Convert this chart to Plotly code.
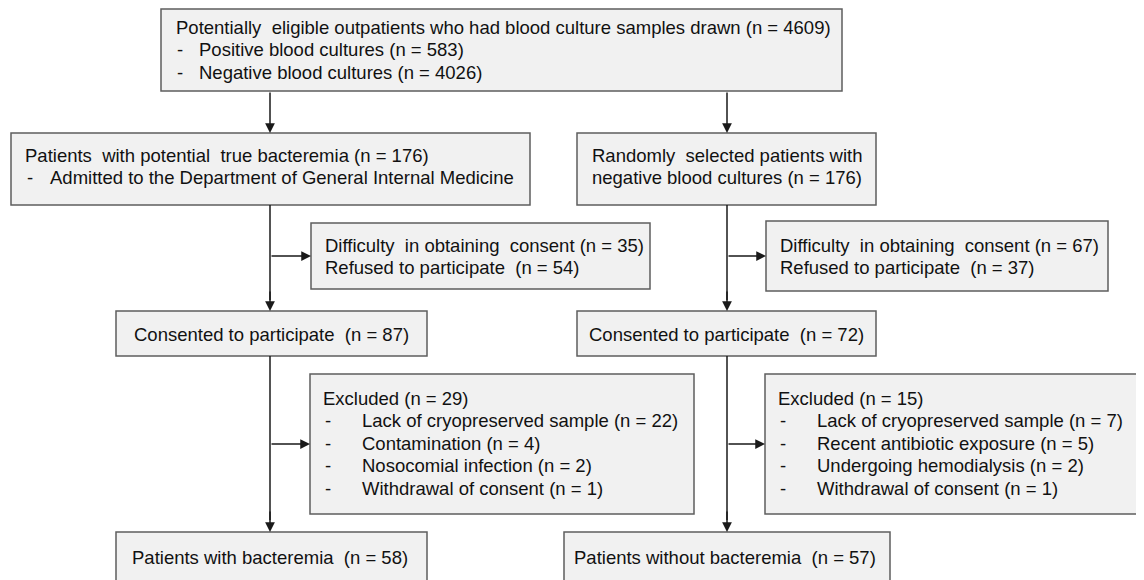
import plotly.graph_objects as go

# ---------------- data (counts and labels) ----------------
n_total = 4609
n_positive = 583
n_negative = 4026
n_potential_bacteremia = 176
n_random_negative = 176
difficulty_consent = [35, 67]
refused_participate = [54, 37]
consented = [87, 72]
excluded_total = [29, 15]
excl_reasons_left = ["Lack of cryopreserved sample", "Contamination", "Nosocomial infection",
                     "Withdrawal of consent"]
excl_counts_left = [22, 4, 2, 1]
excl_reasons_right = ["Lack of cryopreserved sample", "Recent antibiotic exposure",
                      "Undergoing hemodialysis", "Withdrawal of consent"]
excl_counts_right = [7, 5, 2, 1]
final_groups = ["Patients with bacteremia", "Patients without bacteremia"]
final_n = [58, 57]

# ---------------- geometry (pixels) ----------------
W, H = 1144, 580
OFF = 8  # page body margin
FONT = dict(family="Liberation Sans, Arial, Helvetica, sans-serif", size=18.5, color="#111111")
FILL = "#f1f1f1"
BORDER = "#5e5e5e"
LINE = "#1a1a1a"
LH = 22.5  # line height

fig = go.Figure()
shapes = []
annotations = []


def box(x0, y0, x1, y1):
    shapes.append(dict(type="rect", xref="x", yref="y", x0=x0, y0=y0, x1=x1, y1=y1,
                       fillcolor=FILL, line=dict(color=BORDER, width=1.5), layer="below"))


def text(x, y, s, anchor="left"):
    annotations.append(dict(x=x, y=y, xref="x", yref="y", text=s, showarrow=False,
                            xanchor=anchor, yanchor="middle", font=FONT))


def seg(x0, y0, x1, y1):
    shapes.append(dict(type="line", xref="x", yref="y", x0=x0, y0=y0, x1=x1, y1=y1,
                       line=dict(color=LINE, width=1.5)))


def arrow(x0, y0, x1, y1):
    annotations.append(dict(x=x1, y=y1, ax=x0, ay=y0, xref="x", yref="y", axref="x", ayref="y",
                            text="", showarrow=True, arrowhead=2, arrowsize=1.3,
                            arrowwidth=1.5, arrowcolor=LINE, standoff=0, startstandoff=0))


# top box
box(161, 9, 842, 91)
text(174, 27, f"Potentially  eligible outpatients who had blood culture samples drawn (n = {n_total})")
text(175, 27 + LH, "-")
text(197, 27 + LH, f"Positive blood cultures (n = {n_positive})")
text(175, 27 + 2 * LH, "-")
text(197, 27 + 2 * LH, f"Negative blood cultures (n = {n_negative})")

XL, XR = 270, 727

# second row
box(11, 133, 530, 205)
text(23, 155, f"Patients  with potential  true bacteremia (n = {n_potential_bacteremia})")
text(25, 177, "-")
text(48, 177, "Admitted to the Department of General Internal Medicine")
box(577, 133, 876, 205)
text(727, 155, "Randomly  selected patients with", anchor="center")
text(727, 177, f"negative blood cultures (n = {n_random_negative})", anchor="center")

arrow(XL, 91, XL, 133)
arrow(XR, 91, XR, 133)

# consent exclusions
exc1 = [(311, 223, 650, 289), (766, 221, 1108, 291)]
for (x0, y0, x1, y1), d, r in zip(exc1, difficulty_consent, refused_participate):
    box(x0, y0, x1, y1)
    text(x0 + 12, 245, f"Difficulty  in obtaining  consent (n = {d})")
    text(x0 + 12, 267, f"Refused to participate  (n = {r})")

# consented boxes
cons = [(116, 311, 427, 356), (577, 311, 876, 356)]
for (x0, y0, x1, y1), c in zip(cons, consented):
    box(x0, y0, x1, y1)
    text((x0 + x1) / 2, 334, f"Consented to participate  (n = {c})", anchor="center")

for xc, ex in zip([XL, XR], exc1):
    seg(xc, 205, xc, 300)
    arrow(xc, 290, xc, 311)
    arrow(xc, 256, ex[0], 256)

# excluded boxes
exc2 = [(310, 374, 694, 514), (765, 374, 1140, 514)]
for (x0, y0, x1, y1), tot, reasons, counts in zip(
        exc2, excluded_total, [excl_reasons_left, excl_reasons_right],
        [excl_counts_left, excl_counts_right]):
    box(x0, y0, x1, y1)
    text(x0 + 11, 398, f"Excluded (n = {tot})")
    for i, (rs, cn) in enumerate(zip(reasons, counts)):
        y = 398 + (i + 1) * LH
        text(x0 + 13, y, "-")
        text(x0 + 50, y, f"{rs} (n = {cn})")

# final boxes
fin = [(116, 532, 427, 600), (564, 532, 890, 600)]
for (x0, y0, x1, y1), g, n in zip(fin, final_groups, final_n):
    box(x0, y0, x1, y1)
    text((x0 + x1) / 2 - 2, 557, f"{g}  (n = {n})", anchor="center")

for xc, ex in zip([XL, XR], exc2):
    seg(xc, 356, xc, 520)
    arrow(xc, 510, xc, 532)
    arrow(xc, 444, ex[0], 444)

fig.update_layout(
    width=W - OFF, height=H - OFF, margin=dict(l=0, r=0, t=0, b=0),
    paper_bgcolor="white", plot_bgcolor="white",
    xaxis=dict(range=[OFF, W], visible=False, fixedrange=True),
    yaxis=dict(range=[H, OFF], visible=False, fixedrange=True),
    shapes=shapes, annotations=annotations, showlegend=False,
)
fig.write_html("out.html")
